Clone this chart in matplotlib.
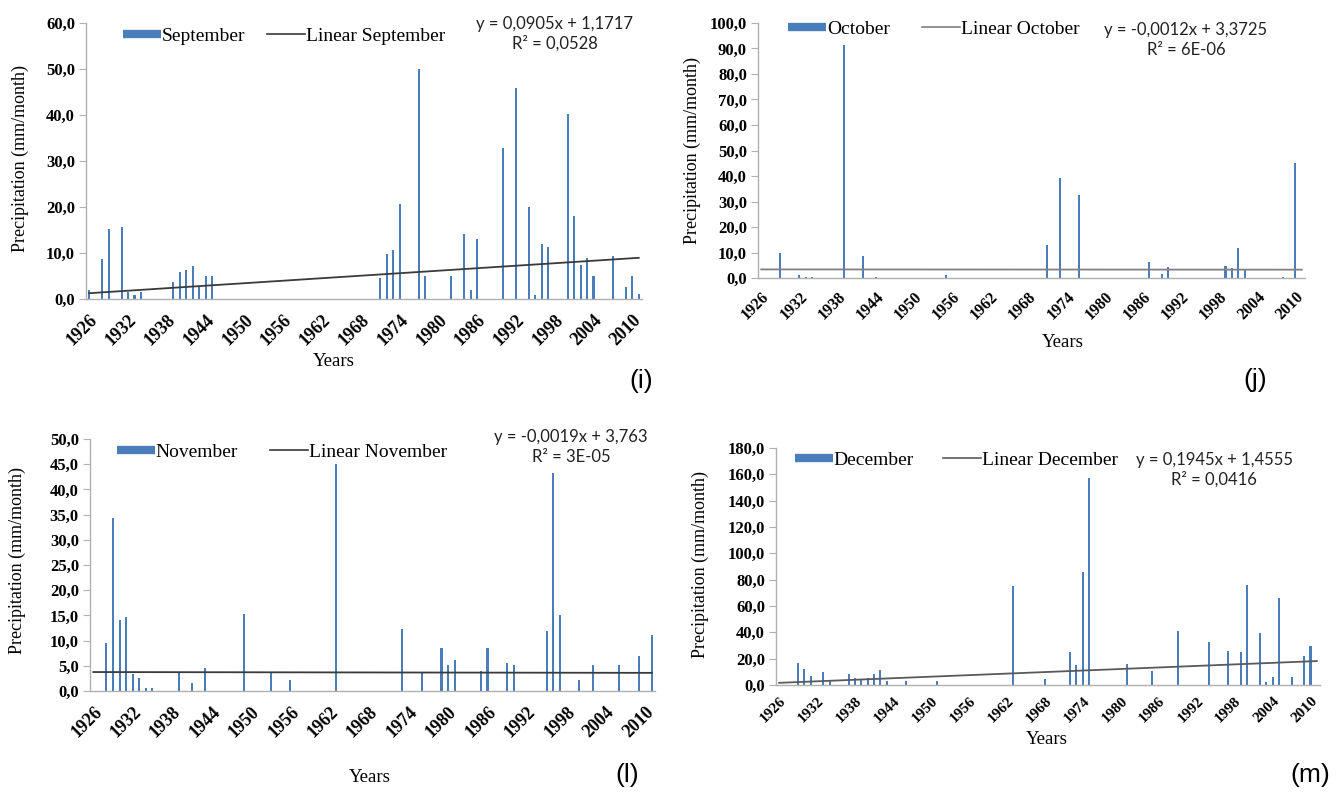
import matplotlib
matplotlib.use("Agg")
import matplotlib.pyplot as plt
from matplotlib.ticker import FuncFormatter, MultipleLocator
from matplotlib.lines import Line2D
import numpy as np

# ---------------- data ----------------
years = list(range(1926, 2012))
tick_years = list(range(1926, 2012, 6))

sep_years = [1926, 1928, 1929, 1931, 1932, 1933, 1934, 1939, 1940, 1941, 1942, 1943, 1944, 1945,
             1971, 1972, 1973, 1974, 1977, 1978, 1982, 1984, 1985, 1986, 1990, 1992, 1994, 1995,
             1996, 1997, 2000, 2001, 2002, 2003, 2004, 2007, 2009, 2010, 2011]
sep_vals = [1.9, 8.7, 15.2, 15.7, 1.5, 0.9, 1.6, 3.6, 5.8, 6.2, 7.2, 2.7, 4.9, 4.9,
            4.5, 9.8, 10.7, 20.7, 50.0, 5.1, 5.1, 14.2, 2.0, 13.0, 32.9, 45.8, 20.0, 0.9,
            12.0, 11.3, 40.2, 18.1, 7.4, 9.0, 5.1, 9.4, 2.6, 5.1, 1.0]

oct_years = [1929, 1932, 1933, 1934, 1939, 1942, 1944, 1955, 1971, 1973, 1976, 1987, 1989,
             1990, 1999, 2000, 2001, 2002, 2008, 2010]
oct_vals = [9.8, 1.3, 0.3, 0.3, 91.5, 8.5, 0.3, 1.3, 12.8, 39.1, 32.6, 6.1, 1.7,
            4.5, 4.9, 3.9, 11.6, 3.2, 0.3, 45.0]

nov_years = [1928, 1929, 1930, 1931, 1932, 1933, 1934, 1935, 1939, 1941, 1943, 1949, 1953,
             1956, 1963, 1973, 1976, 1979, 1980, 1981, 1985, 1986, 1989, 1990, 1995, 1996,
             1997, 2000, 2002, 2006, 2009, 2011]
nov_vals = [9.5, 34.4, 14.1, 14.7, 3.3, 2.5, 0.5, 0.6, 3.6, 1.6, 4.6, 15.2, 3.8,
            2.1, 45.0, 12.4, 3.8, 8.6, 5.2, 6.2, 4.0, 8.5, 5.6, 5.1, 11.9, 43.2,
            15.0, 2.1, 5.2, 5.2, 7.0, 11.2]

dec_years = [1929, 1930, 1931, 1933, 1934, 1937, 1938, 1939, 1940, 1941, 1942, 1943, 1946,
             1951, 1963, 1968, 1972, 1973, 1974, 1975, 1981, 1985, 1989, 1994, 1997, 1999,
             2000, 2002, 2003, 2004, 2005, 2007, 2009, 2010]
dec_vals = [16.5, 11.9, 7.1, 10.1, 3.8, 8.1, 5.6, 4.8, 5.6, 8.1, 11.4, 2.8, 2.8,
            3.3, 75.5, 4.6, 24.8, 15.0, 86.2, 157.2, 16.0, 10.4, 40.8, 33.0, 26.1, 25.3,
            76.3, 39.8, 2.5, 6.3, 65.9, 5.8, 22.3, 29.7]

# trend-line coefficients (as printed on the chart)
sep_trend = (0.0905, 1.1717)
oct_trend = (-0.0012, 3.3725)
nov_trend = (-0.0019, 3.763)
dec_trend = (0.1945, 1.4555)

panels = [
    dict(name="September", yrs=sep_years, vals=sep_vals, trend=sep_trend,
         eq="y = 0,0905x + 1,1717\nR² = 0,0528", ymax=60, step=10, tag="(i)",
         rect=(86, 23, 642, 299), tcolor="#3a3a3a", xfs=13, xpad=9, colsp=1.1),
    dict(name="October", yrs=oct_years, vals=oct_vals, trend=oct_trend,
         eq="y = -0,0012x + 3,3725\nR² = 6E-06", ymax=100, step=10, tag="(j)",
         rect=(758, 23, 1305, 278), tcolor="#808080", xfs=11.5, xpad=8, colsp=1.65),
    dict(name="November", yrs=nov_years, vals=nov_vals, trend=nov_trend,
         eq="y = -0,0019x + 3,763\nR² = 3E-05", ymax=50, step=5, tag="(l)",
         rect=(90, 439, 655, 691), tcolor="#3a3a3a", xfs=13, xpad=9, colsp=1.65),
    dict(name="December", yrs=dec_years, vals=dec_vals, trend=dec_trend,
         eq="y = 0,1945x + 1,4555\nR² = 0,0416", ymax=180, step=20, tag="(m)",
         rect=(776, 448, 1320, 685), tcolor="#5a5a5a", xfs=11, xpad=7, colsp=1.5),
]

# text placements (pixel centers)
eq_pos = [(555, 34), (1186, 40), (571, 447), (1214, 470)]
tag_pos = [(641, 381), (1255, 380), (627, 775), (1310, 775)]
years_pos = [(334, 362), (1063, 342), (370, 778), (1047, 739)]
ylab_pos = [(20, 158), (692, 150), (17, 560), (700, 565)]
leg_pos = [(123, 36), (788, 29), (117, 452), (795, 460)]

W, H = 1336, 792
fig = plt.figure(figsize=(W / 100, H / 100), dpi=100)
fig.patch.set_facecolor("white")

SERIF = ["Liberation Serif", "DejaVu Serif"]
SANS = ["Lato", "Open Sans", "DejaVu Sans"]
BLUE = "#4a7ebb"
AXC = "#b0b0b0"

def fx(px):
    return px / W

def fy(py):
    return 1 - py / H

for k, p in enumerate(panels):
    l, t, r, b = p["rect"]
    ax = fig.add_axes([l / W, 1 - b / H, (r - l) / W, (b - t) / H])
    full = np.zeros(len(years))
    for yr, v in zip(p["yrs"], p["vals"]):
        full[years.index(yr)] = v
    xs = np.arange(len(years))
    ax.bar(xs, full, width=0.32, color=BLUE, linewidth=0)
    a, c = p["trend"]
    xt = np.array([0, len(years) - 1])
    ax.plot(xt, a * (xt + 1) + c, color=p["tcolor"], lw=1.3)

    ax.set_xlim(-0.5, len(years) - 0.5)
    ax.set_ylim(0, p["ymax"])
    ax.yaxis.set_major_locator(MultipleLocator(p["step"]))
    ax.yaxis.set_major_formatter(FuncFormatter(lambda v, pos: f"{v:.1f}".replace(".", ",")))
    ax.set_xticks([years.index(y) for y in tick_years])
    ax.set_xticklabels([str(y) for y in tick_years], rotation=45, ha="right",
                       rotation_mode="anchor")
    for s in ["top", "right"]:
        ax.spines[s].set_visible(False)
    for s in ["left", "bottom"]:
        ax.spines[s].set_color(AXC)
        ax.spines[s].set_linewidth(1.0)
    ax.tick_params(axis="y", direction="out", length=5, color=AXC, pad=3)
    ax.tick_params(axis="x", length=0, pad=p["xpad"])
    for lab in ax.get_xticklabels():
        lab.set_fontfamily(SERIF)
        lab.set_fontweight("bold")
        lab.set_fontsize(p["xfs"])
    for lab in ax.get_yticklabels():
        lab.set_fontfamily(SERIF)
        lab.set_fontweight("bold")
        lab.set_fontsize(12)
    ax.set_facecolor("none")

    # legend
    handles = [Line2D([0], [0], color=BLUE, lw=6, solid_capstyle="butt"),
               Line2D([0], [0], color=p["tcolor"], lw=1.2)]
    lx, ly = leg_pos[k]
    fig.legend(handles, [p["name"], "Linear " + p["name"]], loc="center left",
               bbox_to_anchor=(fx(lx), fy(ly)), ncol=2, frameon=False,
               handlelength=1.95, handletextpad=0.05, columnspacing=p["colsp"],
               borderaxespad=0, borderpad=0,
               prop=dict(family=SERIF, size=14))

    ex, ey = eq_pos[k]
    fig.text(fx(ex), fy(ey), p["eq"], ha="center", va="center", multialignment="center",
             family=SANS, fontsize=12, color="#222222", linespacing=1.25)
    tx, ty = tag_pos[k]
    fig.text(fx(tx), fy(ty), p["tag"], ha="center", va="center",
             family=["Liberation Sans", "DejaVu Sans"], fontsize=19)
    yx, yy = years_pos[k]
    fig.text(fx(yx), fy(yy), "Years", ha="center", va="center", family=SERIF, fontsize=13.5)
    px_, py_ = ylab_pos[k]
    fig.text(fx(px_), fy(py_), "Precipitation (mm/month)", ha="center", va="center",
             rotation=90, family=SERIF, fontsize=13)

fig.savefig("out.png", dpi=100)
